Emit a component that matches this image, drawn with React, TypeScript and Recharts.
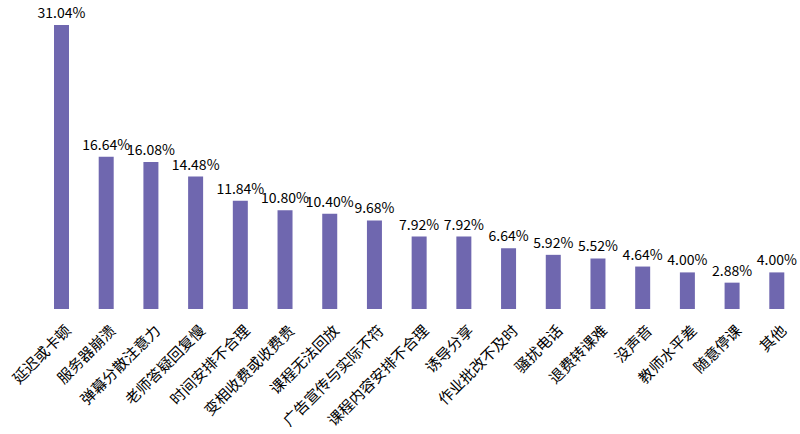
import { BarChart, Bar, XAxis, YAxis, LabelList } from "recharts";

document.body.style.margin = "0";

const categories = [
  "延迟或卡顿",
  "服务器崩溃",
  "弹幕分散注意力",
  "老师答疑回复慢",
  "时间安排不合理",
  "变相收费或收费贵",
  "课程无法回放",
  "广告宣传与实际不符",
  "课程内容安排不合理",
  "诱导分享",
  "作业批改不及时",
  "骚扰电话",
  "退费转课难",
  "没声音",
  "教师水平差",
  "随意停课",
  "其他",
];

const percents = [
  31.04, 16.64, 16.08, 14.48, 11.84, 10.8, 10.4, 9.68, 7.92, 7.92, 6.64, 5.92,
  5.52, 4.64, 4.0, 2.88, 4.0,
];

const data = categories.map((name, i) => ({ name, value: percents[i] }));

const FONT = '"Noto Sans CJK SC", "Noto Sans", sans-serif';

function RotatedTick(props: any) {
  const { x, y, payload } = props;
  return (
    <g transform={`translate(${x + 1},${y + 5})`}>
      <text
        x={0}
        y={0}
        textAnchor="end"
        dominantBaseline="hanging"
        transform="rotate(-45)"
        fill="#000"
        fontSize={15}
        fontFamily={FONT}
      >
        {payload.value}
      </text>
    </g>
  );
}

export default function App() {
  return (
    <div style={{ width: 800, height: 434, background: "#fff" }}>
      <BarChart
        width={800}
        height={434}
        data={data}
        margin={{ top: 25, right: 1, left: 39, bottom: 0 }}
      >
        <XAxis
          dataKey="name"
          axisLine={false}
          tickLine={false}
          interval={0}
          height={125}
          tick={<RotatedTick />}
        />
        <YAxis hide domain={[0, 31.04]} />
        <Bar dataKey="value" fill="#6F67AF" barSize={15} isAnimationActive={false}>
          <LabelList
            dataKey="value"
            position="top"
            offset={7}
            formatter={(v: number) => `${v.toFixed(2)}%`}
            style={{ fill: "#000", fontSize: 14, fontFamily: FONT }}
          />
        </Bar>
      </BarChart>
    </div>
  );
}
